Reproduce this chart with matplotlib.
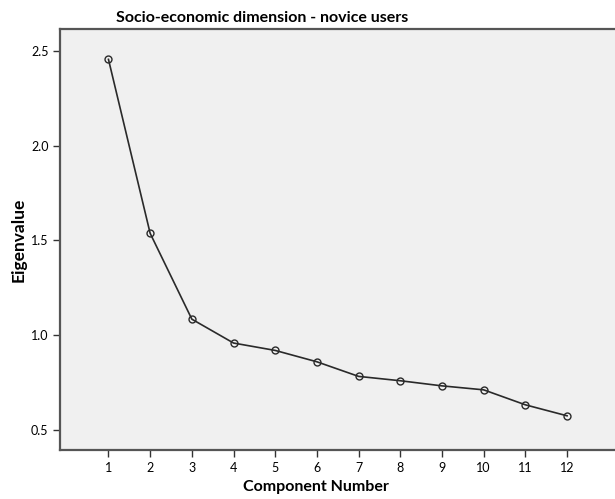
import matplotlib
matplotlib.use('Agg')
import matplotlib.pyplot as plt

plt.rcParams['font.family'] = ['Lato', 'DejaVu Sans']

# scree plot data
components = [1, 2, 3, 4, 5, 6, 7, 8, 9, 10, 11, 12]
eigenvalues = [2.455, 1.537, 1.084, 0.958, 0.919, 0.859, 0.782, 0.759, 0.732, 0.711, 0.632, 0.574]
yticks = [0.5, 1.0, 1.5, 2.0, 2.5]

fig = plt.figure(figsize=(6.15, 4.99), dpi=100)
ax = fig.add_axes([0.098, 0.098, 0.902, 0.843])
ax.set_facecolor('#f0f0f0')

ax.plot(components, eigenvalues, color='#2a2a2a', linewidth=1.2,
        marker='o', markersize=5, markerfacecolor='none',
        markeredgecolor='#2a2a2a', markeredgewidth=1.0)

ax.set_xlim(-0.156, 13.15)
ax.set_ylim(0.393, 2.613)
ax.set_xticks(components)
ax.set_yticks(yticks)
ax.set_yticklabels(['0.5', '1.0', '1.5', '2.0', '2.5'])
ax.tick_params(axis='both', direction='out', length=5, width=1, labelsize=9, color='#333333')

for side in ['left', 'bottom', 'top']:
    ax.spines[side].set_color('#555555')
    ax.spines[side].set_linewidth(1.6)
ax.spines['right'].set_visible(False)

fig.text(0.513, 0.024, 'Component Number', ha='center', va='center',
         fontsize=11.5, fontweight='bold')
fig.text(0.030, 0.519, 'Eigenvalue', ha='center', va='center', rotation=90,
         fontsize=12.5, fontweight='bold')
fig.text(0.426, 0.963, 'Socio-economic dimension - novice users',
         ha='center', va='center', fontsize=11.5, fontweight='bold')

fig.savefig('out.png', dpi=100)
